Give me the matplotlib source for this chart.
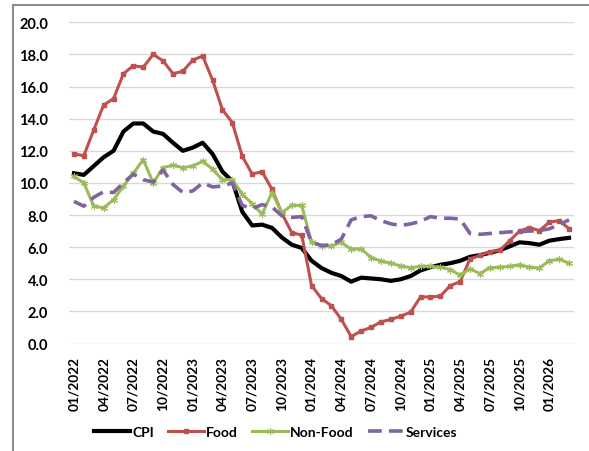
import matplotlib
matplotlib.use("Agg")
import matplotlib.pyplot as plt
from matplotlib.patches import Rectangle

# monthly series, 01/2022 .. 03/2026
months = [f"{m:02d}/{y}" for y in range(2022, 2027) for m in range(1, 13)][:51]

cpi = [10.6, 10.5, 11.05, 11.6, 12.0, 13.2, 13.7, 13.7, 13.2, 13.05,
       12.5, 12.0, 12.2, 12.5, 11.8, 10.7, 10.1, 8.2, 7.35, 7.4,
       7.2, 6.6, 6.15, 5.95, 5.15, 4.7, 4.4, 4.2, 3.85, 4.1,
       4.05, 4.0, 3.9, 4.0, 4.2, 4.55, 4.75, 4.9, 5.0, 5.15,
       5.4, 5.5, 5.65, 5.8, 6.05, 6.3, 6.25, 6.15, 6.4, 6.5, 6.58]

food = [11.8, 11.7, 13.3, 14.85, 15.25, 16.8, 17.3, 17.2, 18.0, 17.6,
        16.8, 16.95, 17.65, 17.9, 16.4, 14.55, 13.75, 11.65, 10.55, 10.7,
        9.6, 8.1, 6.9, 6.75, 3.6, 2.8, 2.35, 1.5, 0.43, 0.78,
        1.0, 1.35, 1.5, 1.7, 1.95, 2.9, 2.9, 2.95, 3.6, 3.85,
        5.27, 5.48, 5.72, 5.8, 6.4, 7.0, 7.22, 7.03, 7.55, 7.65, 7.15]

non_food = [10.4, 10.0, 8.55, 8.45, 8.95, 9.8, 10.6, 11.45, 10.0, 10.95,
            11.1, 10.95, 11.05, 11.35, 10.85, 10.2, 10.2, 9.3, 8.7, 8.05,
            9.4, 8.15, 8.6, 8.6, 6.3, 6.1, 6.07, 6.3, 5.87, 5.9,
            5.35, 5.14, 5.0, 4.83, 4.72, 4.8, 4.8, 4.75, 4.6, 4.25,
            4.65, 4.35, 4.72, 4.75, 4.8, 4.9, 4.75, 4.7, 5.15, 5.25, 5.0]

services = [8.85, 8.55, 9.1, 9.45, 9.4, 10.0, 10.55, 10.2, 10.05, 10.8,
            9.9, 9.4, 9.5, 10.0, 9.75, 9.8, 10.0, 8.6, 8.4, 8.65,
            8.5, 7.95, 7.85, 7.9, 6.3, 6.1, 6.15, 6.5, 7.7, 7.9,
            7.95, 7.65, 7.45, 7.35, 7.45, 7.6, 7.9, 7.8, 7.8, 7.75,
            6.85, 6.8, 6.85, 6.9, 6.95, 6.97, 7.0, 7.03, 7.14, 7.4, 7.7]

plt.rcParams['font.family'] = ['Lato', 'DejaVu Sans']
plt.rcParams['font.weight'] = 'bold'

fig = plt.figure(figsize=(5.89, 4.52), dpi=100)
ax = fig.add_axes([69 / 589, 1 - 344.5 / 452, 505 / 589, 321.2 / 452])

x = list(range(len(months)))
ax.plot(x, cpi, color='black', lw=3.0, label='CPI', solid_joinstyle='round')
ax.plot(x, food, color='#C0504D', lw=2.2, marker='s', ms=3.2, label='Food')
ax.plot(x, non_food, color='#9BBB59', lw=2.2, marker=(6, 2, 0), ms=5,
        mew=0.8, label='Non-Food')
ax.plot(x, services, color='#8064A2', lw=2.6, ls=(0, (3.8, 2.0)), label='Services')

ax.set_xlim(-0.5, len(months) - 0.5)
ax.set_ylim(0, 20)
ax.set_yticks(range(0, 21, 2))
ax.set_yticklabels([f"{v:.1f}" for v in range(0, 21, 2)], fontsize=10.5, fontweight='bold')
ax.set_xticks(x[::3])
ax.set_xticklabels(months[::3], rotation=90, fontsize=9.8, fontweight='bold')
ax.tick_params(axis='both', length=0)
ax.tick_params(axis='y', pad=15)
ax.tick_params(axis='x', pad=9)
ax.grid(axis='y', color='#D9D9D9', lw=1.0)
ax.set_axisbelow(True)
for s in ax.spines.values():
    s.set_visible(False)

fig.patches.append(Rectangle((13 / 589, -0.2), 2.0, 1.2 - 5.5 / 452,
                             transform=fig.transFigure, fill=False,
                             edgecolor='#8C8C8C', lw=1.5))

fig.legend(loc='center', bbox_to_anchor=(276 / 589, 1 - 433 / 452), ncol=4,
           frameon=False, handlelength=2.6, handletextpad=0.15,
           columnspacing=1.0, prop={'weight': 'bold', 'size': 10})

fig.savefig('out.png', dpi=100)
